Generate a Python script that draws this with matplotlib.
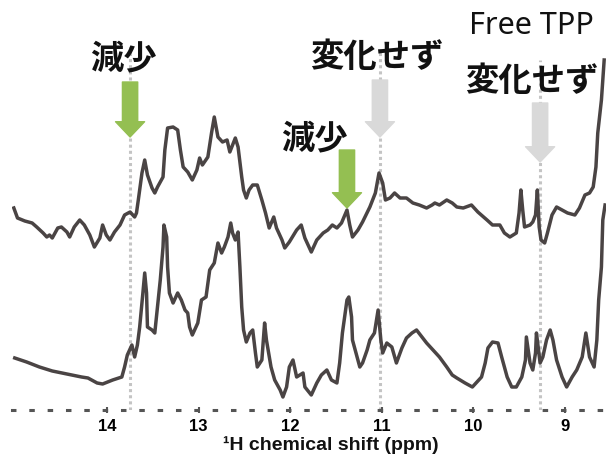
import matplotlib
matplotlib.use("Agg")
import matplotlib.pyplot as plt

# top spectrum (with TPP) - ppm / intensity (a.u.)
top_ppm = [15.02, 14.98, 14.90, 14.82, 14.77, 14.70, 14.66, 14.63, 14.60, 14.54, 14.50, 14.44, 14.41, 14.36,
           14.30, 14.25, 14.19, 14.14, 14.08, 14.05, 14.01, 13.97, 13.92, 13.86, 13.81, 13.75, 13.70, 13.68,
           13.66, 13.62, 13.59, 13.56, 13.51, 13.48, 13.45, 13.39, 13.37, 13.34, 13.28, 13.23, 13.20, 13.17,
           13.12, 13.07, 13.02, 12.99, 12.96, 12.90, 12.86, 12.83, 12.79, 12.74, 12.69, 12.66, 12.63, 12.60,
           12.57, 12.53, 12.51, 12.48, 12.45, 12.41, 12.36, 12.31, 12.27, 12.23, 12.18, 12.15, 12.09, 12.06,
           12.01, 11.93, 11.88, 11.84, 11.77, 11.71, 11.64, 11.59, 11.54, 11.49, 11.44, 11.38, 11.35, 11.32,
           11.26, 11.21, 11.13, 11.07, 11.03, 10.99, 10.96, 10.91, 10.86, 10.80, 10.73, 10.66, 10.59, 10.51,
           10.45, 10.42, 10.37, 10.29, 10.23, 10.18, 10.11, 10.02, 9.95, 9.85, 9.79, 9.71, 9.66, 9.60, 9.53,
           9.50, 9.48, 9.46, 9.44, 9.38, 9.35, 9.32, 9.30, 9.28, 9.26, 9.22, 9.19, 9.14, 9.09, 9.03, 8.97,
           8.89, 8.84, 8.78, 8.73, 8.69, 8.66, 8.64, 8.60, 8.57]
top_int = [202, 192, 189, 187, 183, 177, 173, 175, 172, 182, 183, 178, 173, 183,
           190, 185, 175, 163, 172, 185, 175, 170, 178, 185, 195, 198, 193, 197,
           210, 237, 250, 235, 222, 217, 223, 233, 260, 282, 283, 280, 260, 243,
           238, 230, 240, 252, 245, 253, 277, 293, 273, 268, 270, 258, 265, 272,
           263, 233, 220, 212, 220, 225, 225, 210, 197, 182, 193, 182, 170, 162,
           168, 180, 185, 172, 158, 170, 177, 180, 185, 182, 187, 200, 185, 173,
           180, 188, 203, 217, 237, 227, 210, 212, 217, 212, 212, 207, 205, 202,
           205, 207, 205, 210, 207, 203, 202, 205, 198, 190, 185, 185, 177, 173, 177,
           197, 220, 200, 183, 185, 188, 195, 220, 183, 170, 167, 177, 195, 203, 200, 197,
           195, 202, 215, 217, 223, 243, 277, 310, 350]

# bottom spectrum (no TPP)
bot_ppm = [15.01, 14.88, 14.74, 14.60, 14.44, 14.28, 14.21, 14.11, 14.05, 13.94, 13.84, 13.81, 13.78, 13.73,
           13.70, 13.67, 13.645, 13.62, 13.61, 13.59, 13.57, 13.56, 13.51, 13.48, 13.45, 13.42, 13.39, 13.38,
           13.35, 13.34, 13.32, 13.28, 13.23, 13.19, 13.15, 13.12, 13.10, 13.07, 13.01, 12.97, 12.92, 12.88,
           12.83, 12.79, 12.75, 12.72, 12.68, 12.65, 12.63, 12.60, 12.57, 12.55, 12.53, 12.51, 12.48, 12.44,
           12.41, 12.38, 12.36, 12.31, 12.28, 12.26, 12.21, 12.17, 12.11, 12.08, 12.04, 12.01, 11.97, 11.93,
           11.86, 11.84, 11.77, 11.71, 11.66, 11.60, 11.55, 11.49, 11.46, 11.43, 11.38, 11.36, 11.33, 11.32,
           11.27, 11.24, 11.21, 11.16, 11.13, 11.08, 11.04, 11.01, 10.99, 10.945, 10.89, 10.84, 10.78, 10.73,
           10.67, 10.62, 10.56, 10.51, 10.44, 10.37, 10.29, 10.23, 10.18, 10.09, 10.01, 9.91, 9.87, 9.84,
           9.79, 9.73, 9.69, 9.63, 9.58, 9.53, 9.47, 9.43, 9.42, 9.38, 9.35, 9.32, 9.31, 9.27, 9.24, 9.20,
           9.16, 9.13, 9.09, 9.03, 8.98, 8.92, 8.87, 8.81, 8.77, 8.73, 8.68, 8.65, 8.63, 8.60, 8.585, 8.56]
bot_int = [52, 48, 43, 39, 36, 33, 32, 27, 26, 30, 33, 43, 55, 65,
           53, 65, 83, 107, 117, 137, 117, 83, 80, 77, 103, 130, 163, 185,
           173, 143, 117, 107, 117, 110, 100, 97, 83, 75, 87, 110, 113, 140,
           147, 167, 157, 163, 173, 187, 177, 170, 178, 143, 103, 80, 68, 77,
           80, 57, 43, 50, 87, 70, 43, 30, 20, 13, 23, 43, 50, 33,
           37, 23, 15, 27, 35, 40, 30, 27, 47, 77, 110, 113, 93, 70,
           53, 43, 47, 60, 70, 77, 100, 70, 57, 67, 63, 47, 62, 72,
           77, 80, 73, 67, 60, 53, 43, 35, 32, 27, 23, 33, 47, 62,
           68, 67, 53, 33, 23, 23, 33, 50, 73, 47, 40, 57, 77, 47, 53, 70,
           80, 70, 50, 33, 23, 33, 40, 53, 77, 53, 43, 70, 110, 143, 190, 205]

marker_ppm = [13.75, 11.02, 9.27]
marker_top = [365, 360, 350]
ticks = [14, 13, 12, 11, 10, 9]

# arrows: (x ppm, tail, head tip)
green_arrows = [(13.75, 328, 273), (11.38, 260, 202)]
gray_arrows = [(11.02, 330, 273), (9.27, 307, 248)]
labels_jp = [("減少", 13.82, 351), ("変化せず", 11.05, 352), ("減少", 11.74, 271), ("変化せず", 9.36, 329)]

fig = plt.figure(figsize=(6.06, 4.61), dpi=100)
ax = fig.add_axes([12 / 606, 51 / 461, 594 / 606, 410 / 461])

for x, yt in zip(marker_ppm, marker_top):
    ax.plot([x, x], [0, yt], color='#c4c4c4', lw=2.2, ls=(0, (1, 1)), zorder=1)

ax.plot(top_ppm, top_int, color='#4a4444', lw=2.5, zorder=3, solid_joinstyle='round')
ax.plot(bot_ppm, bot_int, color='#4a4444', lw=2.5, zorder=3, solid_joinstyle='round')

for x, y0, y1 in green_arrows:
    ax.annotate('', xy=(x, y1), xytext=(x, y0),
                arrowprops=dict(arrowstyle='simple,head_length=1.0,head_width=1.9,tail_width=1.0',
                                mutation_scale=11, color='#94bf52', shrinkA=0, shrinkB=0), zorder=4)
for x, y0, y1 in gray_arrows:
    ax.annotate('', xy=(x, y1), xytext=(x, y0),
                arrowprops=dict(arrowstyle='simple,head_length=1.0,head_width=1.9,tail_width=1.0',
                                mutation_scale=11, color='#d9d9d9', shrinkA=0, shrinkB=0), zorder=2)

for txt, x, y in labels_jp:
    ax.text(x, y, txt, ha='center', va='center', fontsize=24, fontweight='bold',
            family=['Noto Sans CJK JP', 'DejaVu Sans'], color='#111111', zorder=5)
ax.text(9.36, 384, "Free TPP", ha='center', va='center', fontsize=22,
        family=['Noto Sans', 'DejaVu Sans'], color='#111111', zorder=5)

ax.set_xlim(15.04, 8.55)
ax.set_ylim(0, 410)
for s in ['top', 'left', 'right']:
    ax.spines[s].set_visible(False)
ax.spines['bottom'].set_linestyle((0, (0.8, 5.2)))
ax.spines['bottom'].set_linewidth(2.2)
ax.spines['bottom'].set_color('#555555')
ax.set_yticks([])
ax.set_xticks(ticks)
ax.set_xticklabels([str(t) for t in ticks], fontsize=12, fontweight='bold',
                   family=['Liberation Sans', 'DejaVu Sans'])
ax.tick_params(axis='x', direction='inout', length=5, width=1.5, color='#555555', pad=4)
ax.patch.set_alpha(0)

fig.text(331 / 606, 1 - 445 / 461, "¹H chemical shift (ppm)", ha='center', va='center',
         fontsize=14, fontweight='bold', family=['Liberation Sans', 'DejaVu Sans'], color='#111111')

fig.savefig('out.png', dpi=100)
